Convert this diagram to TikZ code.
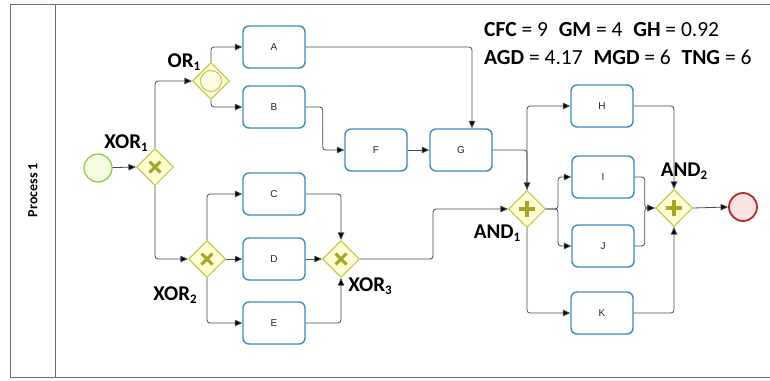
\documentclass[tikz,border=0pt]{standalone}
\usepackage{fontspec}
\setmainfont{Carlito}
\newfontfamily\taskfont{Liberation Sans}
\usetikzlibrary{shapes.geometric,arrows.meta,shadows}
\definecolor{gwfill}{HTML}{FFFFD2}
\definecolor{gwdraw}{HTML}{C8C85A}
\definecolor{gwmark}{HTML}{A6A626}
\definecolor{taskdraw}{HTML}{3E8EBA}
\definecolor{startdraw}{HTML}{8DC63F}
\definecolor{startfill}{HTML}{F7FBE0}
\definecolor{enddraw}{HTML}{B22A2A}
\definecolor{endfill}{HTML}{FBE3E3}
\definecolor{flowc}{HTML}{4A4A4A}
\definecolor{framec}{HTML}{707070}
\newcommand\gwlabel[2]{\bfseries #1\raisebox{-0.35ex}{\fontsize{13}{13}\selectfont #2}}
\tikzset{
  task/.style={rectangle, rounded corners=6pt, draw=taskdraw, line width=1.4pt, fill=white,
    minimum width=62pt, minimum height=42pt, inner sep=0pt,
    drop shadow={opacity=0.12, shadow xshift=1pt, shadow yshift=-1pt},
    font=\taskfont\fontsize{10}{10}\selectfont, text=black!85},
  gw/.style={diamond, draw=gwdraw, line width=1.1pt, fill=gwfill, minimum width=37pt, minimum height=37pt, inner sep=0pt},
  xorgw/.style={gw, path picture={
    \draw[gwmark, line width=3pt] ([shift={(-5.5pt,-5.5pt)}]path picture bounding box.center) -- ([shift={(5.5pt,5.5pt)}]path picture bounding box.center);
    \draw[gwmark, line width=3pt] ([shift={(-5.5pt,5.5pt)}]path picture bounding box.center) -- ([shift={(5.5pt,-5.5pt)}]path picture bounding box.center);}},
  andgw/.style={gw, path picture={
    \draw[gwmark, line width=3.4pt] ([shift={(-8pt,0pt)}]path picture bounding box.center) -- ([shift={(8pt,0pt)}]path picture bounding box.center);
    \draw[gwmark, line width=3.4pt] ([shift={(0pt,-8pt)}]path picture bounding box.center) -- ([shift={(0pt,8pt)}]path picture bounding box.center);}},
  orgw/.style={gw, path picture={
    \draw[gwdraw, line width=1.1pt, fill=gwfill!60!white] (path picture bounding box.center) circle[radius=10.5pt];}},
  startev/.style={circle, draw=startdraw, line width=1.2pt, fill=startfill, minimum size=28pt, inner sep=0pt},
  endev/.style={circle, draw=enddraw, line width=1.8pt, fill=endfill, minimum size=28pt, inner sep=0pt},
  flow/.style={draw=flowc, line width=0.8pt, rounded corners=3pt, -{Triangle[length=7.5pt,width=6.5pt,fill=black]}},
  gwl/.style={font=\fontsize{21}{21}\selectfont, inner sep=0pt},
  metric/.style={font=\fontsize{21.5}{21.5}\selectfont, inner sep=0pt, anchor=west},
}
\begin{document}
\begin{tikzpicture}[x=1pt, y=-1pt]
\useasboundingbox (0,0) rectangle (770,380);
% frame
\draw[framec, line width=1pt] (770,4) -- (10,4) -- (10,377) -- (770,377);
\draw[framec, line width=1pt] (55,4) -- (55,377);
\node[rotate=90, font=\bfseries\fontsize{14}{14}\selectfont] (lane) at (33,190) {Process 1};

% nodes
\node[startev] (start) at (98,168) {};
\node[xorgw] (xor1) at (155,167) {};
\node[orgw] (or1) at (211,81) {};
\node[task] (A) at (274,47) {A};
\node[task] (B) at (274,107) {B};
\node[task] (F) at (376,150) {F};
\node[task] (G) at (461,150) {G};
\node[xorgw] (xor2) at (207,259) {};
\node[task] (C) at (274,194) {C};
\node[task] (D) at (274,259) {D};
\node[task] (E) at (274,323) {E};
\node[xorgw] (xor3) at (341,259) {};
\node[andgw] (and1) at (527,209) {};
\node[task] (H) at (602,106) {H};
\node[task] (I) at (603,177) {I};
\node[task] (J) at (603,246) {J};
\node[task] (K) at (602,313) {K};
\node[andgw] (and2) at (674,208) {};
\node[endev] (end) at (743,207) {};

% labels
\node[gwl] (lxor1) at (126,143) {\gwlabel{XOR}{1}};
\node[gwl] (lor1) at (184,62) {\gwlabel{OR}{1}};
\node[gwl] (lxor2) at (175,295) {\gwlabel{XOR}{2}};
\node[gwl] (lxor3) at (370,286) {\gwlabel{XOR}{3}};
\node[gwl] (land1) at (497,233) {\gwlabel{AND}{1}};
\node[gwl] (land2) at (684,171) {\gwlabel{AND}{2}};

\node[metric] (m1) at (484,30) {\textbf{CFC} = 9\enspace\textbf{GM} = 4\enspace\textbf{GH} = 0.92};
\node[metric] (m2) at (484,57) {\textbf{AGD} = 4.17\enspace\textbf{MGD} = 6\enspace\textbf{TNG} = 6};

% flows
\draw[flow] (start) -- (xor1.west);
\draw[flow] (xor1.north) |- (or1.west);
\draw[flow] (or1.north) |- (A.west);
\draw[flow] (or1.south) |- (B.west);
\draw[flow] (xor1.south) |- (xor2.west);
\draw[flow] (xor2.north) |- (C.west);
\draw[flow] (xor2) -- (D.west);
\draw[flow] (xor2.south) |- (E.west);
\draw[flow] (C.east) -| (xor3.north);
\draw[flow] (D.east) -- (xor3.west);
\draw[flow] (E.east) -| (xor3.south);
\draw[flow] (A.east) -| ([xshift=11pt]G.north);
\draw[flow] (B.east) -- ++(17,0) |- (F.west);
\draw[flow] (F) -- (G);
\draw[flow] (G.east) -| (and1.north);
\draw[flow] (and1.north) |- (H.west);
\draw[flow] (xor3.east) -- ++(73,0) |- (and1.west);
\draw[flow] (and1.east) -- ++(12,0) |- (I.west);
\draw[flow] (and1.east) -- ++(12,0) |- (J.west);
\draw[flow] (and1.south) |- (K.west);
\draw[flow] (H.east) -| (and2.north);
\draw[flow] (I.east) -- ++(10,0) |- (and2.west);
\draw[flow] (J.east) -- ++(10,0) |- (and2.west);
\draw[flow] (K.east) -| (and2.south);
\draw[flow] (and2.east) -- (end.west);
\end{tikzpicture}
\end{document}
